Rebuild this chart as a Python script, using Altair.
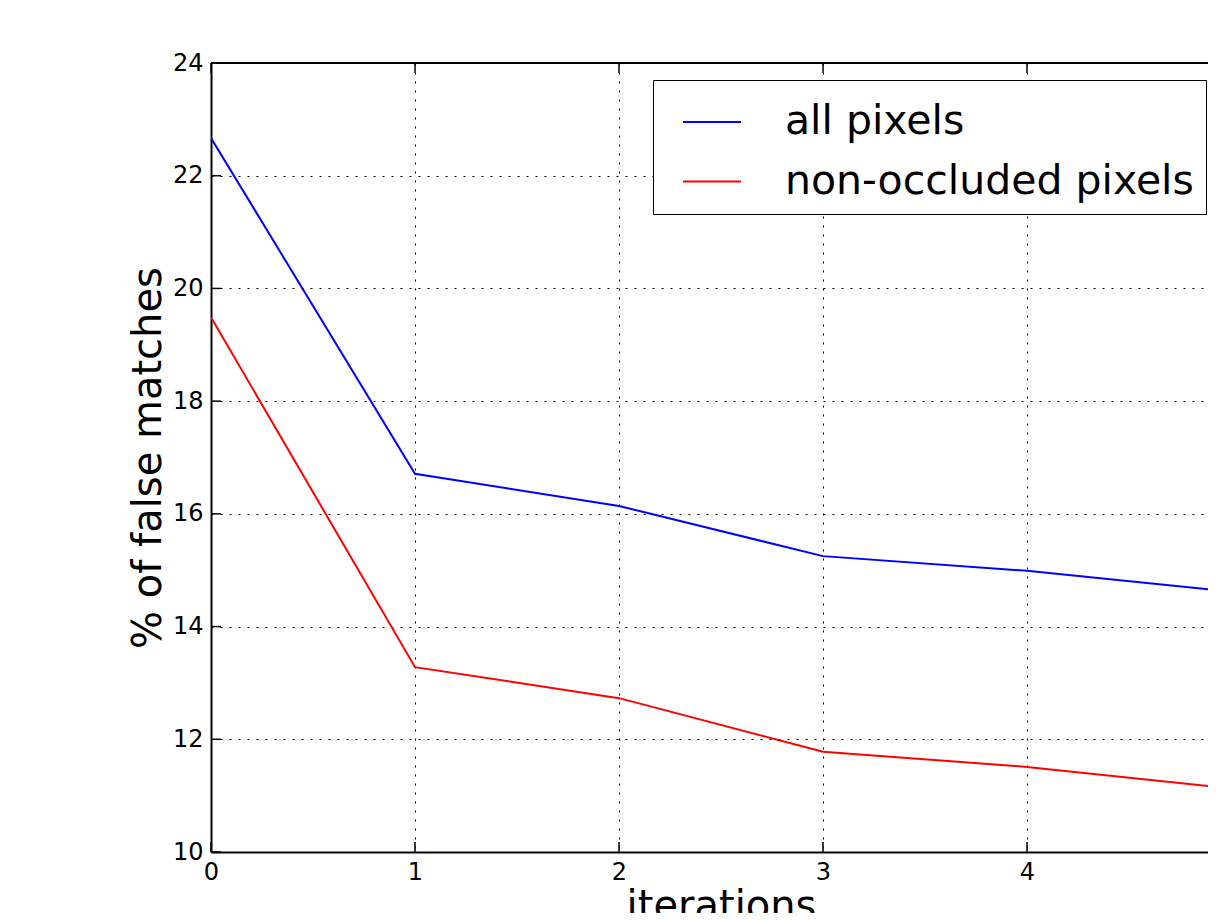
import altair as alt
import pandas as pd

iterations = [0, 1, 2, 3, 4, 5]
all_pixels = [22.67, 16.71, 16.14, 15.25, 14.99, 14.62]
non_occluded = [19.49, 13.28, 12.73, 11.78, 11.51, 11.13]
series_names = ["all pixels", "non-occluded pixels"]
series_colors = ["#0000ff", "#ff0000"]
x_ticks = [0, 1, 2, 3, 4]
y_ticks = [10, 12, 14, 16, 18, 20, 22, 24]

rows = []
for it, a, n in zip(iterations, all_pixels, non_occluded):
    rows.append({"iteration": it, "value": a, "series": series_names[0]})
    rows.append({"iteration": it, "value": n, "series": series_names[1]})
df = pd.DataFrame(rows)
xt = pd.DataFrame({"t": x_ticks})
yt = pd.DataFrame({"t": y_ticks})

PX_PER_UNIT = 204
W, H = 997, 789
FONT = "DejaVu Sans"

xscale = alt.Scale(domain=[0, W / PX_PER_UNIT], nice=False, zero=False)
yscale = alt.Scale(domain=[10, 24], nice=False, zero=False)

common_axis = dict(
    grid=True, gridColor="black", gridDash=[2, 7], gridWidth=1, gridOpacity=1,
    labelFontSize=24, labelFont=FONT, labelColor="black", labelFlush=False,
    titleFontSize=40, titleFont=FONT, titleColor="black", titleFontWeight="normal",
    tickSize=0, domainColor="black", domainWidth=2, labelPadding=8,
)

lines = alt.Chart(df).mark_line(strokeWidth=2, clip=True).encode(
    x=alt.X("iteration:Q", scale=xscale,
            axis=alt.Axis(values=x_ticks, format="d", title="iterations", titlePadding=2,
                          titleX=2.5 * PX_PER_UNIT, **common_axis)),
    y=alt.Y("value:Q", scale=yscale,
            axis=alt.Axis(values=y_ticks, format="d", title="% of false matches", titlePadding=4, **common_axis)),
    color=alt.Color("series:N",
                    scale=alt.Scale(domain=series_names, range=series_colors),
                    legend=alt.Legend(
                        title=None, orient="none", legendX=442, legendY=17,
                        fillColor="white", strokeColor="black",
                        padding=12, cornerRadius=0,
                        symbolType="stroke", symbolSize=3364, symbolStrokeWidth=2,
                        symbolOffset=17, labelOffset=43, rowPadding=9.5,
                        labelFontSize=41, labelFont=FONT, labelColor="black", labelLimit=0,
                    )),
)

tick_bottom = alt.Chart(xt).mark_rule(color="black", strokeWidth=1.5).encode(
    x=alt.X("t:Q", scale=xscale), y=alt.value(H), y2=alt.value(H - 10))
tick_top = alt.Chart(xt).mark_rule(color="black", strokeWidth=1.5).encode(
    x=alt.X("t:Q", scale=xscale), y=alt.value(0), y2=alt.value(10))
tick_left = alt.Chart(yt).mark_rule(color="black", strokeWidth=1.5).encode(
    y=alt.Y("t:Q", scale=yscale), x=alt.value(0), x2=alt.value(10))
top_frame = alt.Chart(xt).mark_rule(color="black", strokeWidth=2).encode(
    x=alt.value(0), x2=alt.value(W), y=alt.value(0))

chart = alt.layer(lines, tick_bottom, tick_top, tick_left, top_frame).properties(
    width=W, height=H,
    padding={"left": 203, "top": 55, "right": 0, "bottom": 61},
    autosize=alt.AutoSizeParams(type="none"),
).configure_view(strokeWidth=0).configure_legend(
    strokeWidth=2
).configure(background="white")

chart.save("out.html", embed_options={"renderer": "svg", "actions": False})
